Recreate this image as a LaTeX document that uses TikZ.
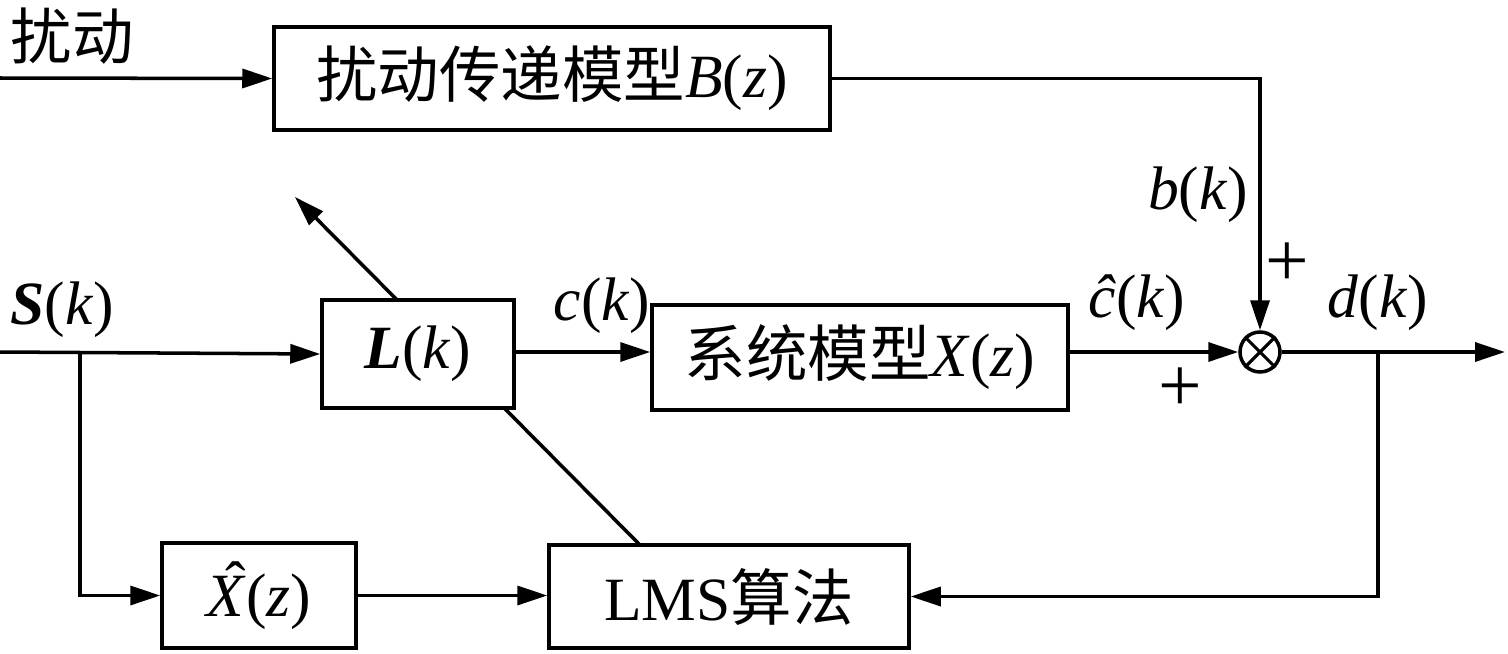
\documentclass[tikz,border=0pt]{standalone}
\usepackage{fontspec}
\setmainfont{Liberation Serif}
\newfontfamily\cjk{Noto Sans CJK SC}
\usetikzlibrary{arrows.meta}
\newcommand{\hatX}{\makebox[0pt][l]{\hspace{0.3em}\raisebox{0.2em}{ˆ}}\textit{X}}
\begin{document}
\begin{tikzpicture}[x=0.02cm,y=-0.02cm,
  every node/.style={font=\fontsize{35}{40}\selectfont},
  box/.style={draw,line width=2pt,fill=white,inner sep=0pt},
  ln/.style={line width=2pt},
  ar/.style={ln,-{Triangle[length=0.6cm,width=0.38cm]}}]
\useasboundingbox (0,0) rectangle (1508,653);
\node[box,minimum width=556*0.02cm,minimum height=103*0.02cm] (B) at (552,78.5) {{\cjk 扰动传递模型}\textit{B}(\textit{z})};
\coordinate (ls) at (640,545);
\coordinate (le) at (295,197);
\draw[ar] (ls) -- (le);
\node[box,minimum width=192*0.02cm,minimum height=108*0.02cm] (L) at (418,354) {\textbf{\textit{L}}(\textit{k})};
\node[box,minimum width=416*0.02cm,minimum height=105*0.02cm] (X) at (860,357.5) {{\cjk 系统模型}\textit{X}(\textit{z})};
\node[box,minimum width=194*0.02cm,minimum height=105*0.02cm] (XH) at (259,595.5) {\hatX(\textit{z})};
\node[box,minimum width=360*0.02cm,minimum height=103*0.02cm] (LMS) at (729,596.5) {LMS{\cjk 算法}};
\node[draw,circle,line width=2pt,minimum size=40*0.02cm,inner sep=0pt] (C) at (1260,352) {};
\draw[line width=1.8pt] (C.45) -- (C.225) (C.135) -- (C.315);
\coordinate (din) at (0,78);
\coordinate (sin) at (0,352);
\coordinate (br) at (80,352);
\coordinate (fb) at (1378,352);
\coordinate (out) at (1505,352);
\draw[ar] (din) -- (B.west);
\draw[ar] (B.east) -| (C.north);
\draw[ar] (sin) -- (L.west);
\draw[ar] (br) |- (XH.west);
\draw[ar] (L.east|-sin) -- (X.west|-sin);
\draw[ar] (X.east|-sin) -- (C.west);
\draw[ar] (C.east) -- (out);
\draw[ar] (fb) |- (LMS.east);
\draw[ar] (XH.east) -- (LMS.west|-XH.east);
\node (t1) at (72,36) {\cjk 扰动};
\node (t2) at (1198,195) {\textit{b}(\textit{k})};
\node[font=\fontsize{44}{48}\selectfont] (t3) at (1287,265) {+};
\node (t4) at (62,310) {\textbf{\textit{S}}(\textit{k})};
\node (t5) at (602,306) {\textit{c}(\textit{k})};
\node (t6) at (1137,303) {\textit{\^c}(\textit{k})};
\node[font=\fontsize{44}{48}\selectfont] (t7) at (1180,390) {+};
\node (t8) at (1378,303) {\textit{d}(\textit{k})};
\end{tikzpicture}
\end{document}
